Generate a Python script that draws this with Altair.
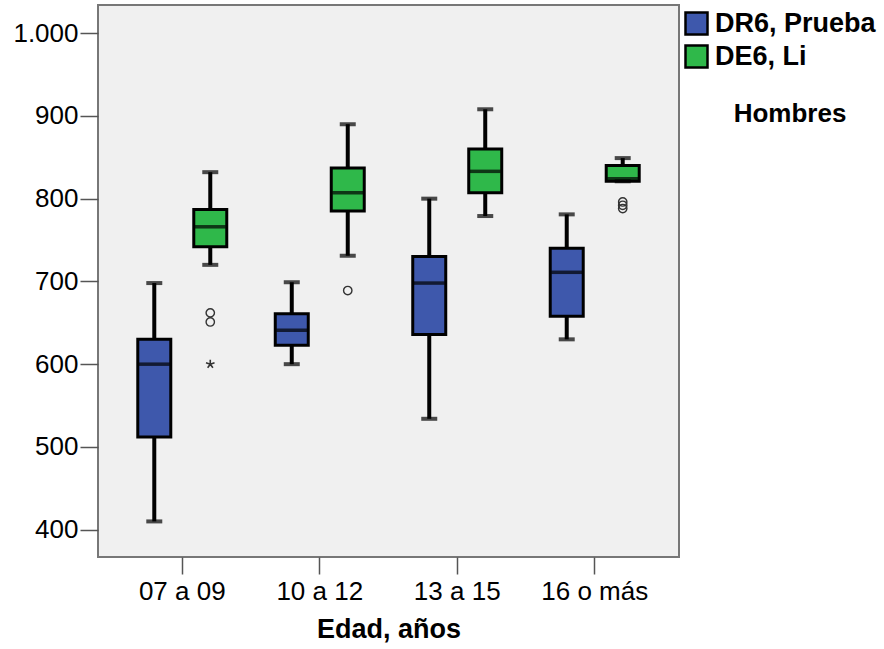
import altair as alt
import pandas as pd

# Age groups and the two measures compared within each group
groups = ["07 a 09", "10 a 12", "13 a 15", "16 o más"]
series = ["DR6, Prueba", "DE6, Li"]
colors = ["#3E58AC", "#2FB84A"]

# Box summaries for "DR6, Prueba"
dr6_lower = [410, 600, 534, 630]
dr6_q1 = [512, 623, 636, 658]
dr6_median = [600, 641, 698, 711]
dr6_q3 = [630, 661, 730, 740]
dr6_upper = [698, 699, 800, 781]

# Box summaries for "DE6, Li"
de6_lower = [720, 731, 779, 821]
de6_q1 = [742, 785, 807, 821]
de6_median = [766, 807, 833, 824]
de6_q3 = [787, 837, 860, 840]
de6_upper = [832, 890, 908, 849]

# Outlying cases (circle = outlier, star = extreme)
out_group = ["07 a 09", "07 a 09", "07 a 09", "10 a 12", "16 o más", "16 o más", "16 o más"]
out_series = ["DE6, Li"] * 7
out_value = [662, 651, 600, 689, 796, 792, 788]
out_kind = ["circle", "circle", "star", "circle", "circle", "circle", "circle"]

rows = []
for name, lo, a, m, b, hi in [
    (series[0], dr6_lower, dr6_q1, dr6_median, dr6_q3, dr6_upper),
    (series[1], de6_lower, de6_q1, de6_median, de6_q3, de6_upper),
]:
    for i, g in enumerate(groups):
        rows.append({"grupo": g, "serie": name, "lower": lo[i], "q1": a[i],
                     "median": m[i], "q3": b[i], "upper": hi[i]})
boxes = pd.DataFrame(rows)
outliers = pd.DataFrame({"grupo": out_group, "serie": out_series,
                         "valor": out_value, "tipo": out_kind})

FONT = "Liberation Sans"

x_enc = alt.X("grupo:N", sort=groups,
              scale=alt.Scale(domain=groups, paddingInner=0, paddingOuter=0.113),
              axis=alt.Axis(title="Edad, años"))
off_enc = alt.XOffset("serie:N", sort=series,
                      scale=alt.Scale(domain=series, paddingInner=0, paddingOuter=0.2277))
y_scale = alt.Scale(domain=[367, 1034], nice=False, zero=False)
y_axis = alt.Axis(title=None, values=[400, 500, 600, 700, 800, 900, 1000],
                  labelExpr="replace(format(datum.value, ','), ',', '.')")

base = alt.Chart(boxes).encode(x=x_enc, xOffset=off_enc)

whisk_low = base.mark_rule(color="black", strokeWidth=4).encode(
    y=alt.Y("lower:Q", scale=y_scale, axis=y_axis), y2="q1:Q")
whisk_high = base.mark_rule(color="black", strokeWidth=4).encode(
    y=alt.Y("q3:Q", scale=y_scale, axis=y_axis), y2="upper:Q")

box = base.mark_bar(size=33, stroke="black", strokeWidth=3).encode(
    y=alt.Y("q1:Q", scale=y_scale, axis=y_axis), y2="q3:Q",
    color=alt.Color("serie:N", sort=series,
                    scale=alt.Scale(domain=series, range=colors),
                    legend=alt.Legend(title=None, orient="none", legendX=585, legendY=5,
                                      symbolType="square", symbolSize=484,
                                      symbolStrokeColor="black", symbolStrokeWidth=2.5,
                                      symbolOpacity=1,
                                      labelFont=FONT, labelFontSize=27, labelFontWeight="bold",
                                      labelColor="black", labelLimit=300, labelOffset=5,
                                      rowPadding=0)))

median = base.mark_tick(color="black", size=31, thickness=3.5).encode(
    y=alt.Y("median:Q", scale=y_scale, axis=y_axis))
cap_low = base.mark_tick(color="black", size=16, thickness=4).encode(
    y=alt.Y("lower:Q", scale=y_scale, axis=y_axis))
cap_high = base.mark_tick(color="black", size=16, thickness=4).encode(
    y=alt.Y("upper:Q", scale=y_scale, axis=y_axis))

out_base = alt.Chart(outliers).encode(
    x=alt.X("grupo:N", sort=groups), xOffset=alt.XOffset("serie:N", sort=series),
    y=alt.Y("valor:Q", scale=y_scale, axis=y_axis))

circles = out_base.transform_filter(alt.datum.tipo == "circle").mark_point(
    shape="circle", filled=False, size=70, stroke="#333333", strokeWidth=1.4, opacity=1)

asterisk = "M0,0L0,-1M0,0L0.951,-0.309M0,0L0.588,0.809M0,0L-0.588,0.809M0,0L-0.951,-0.309"
stars = out_base.transform_filter(alt.datum.tipo == "star").mark_point(
    shape=asterisk, filled=False, size=80, stroke="#333333", strokeWidth=1.6, opacity=1)

sex_label = alt.Chart(pd.DataFrame({"t": ["Hombres"]})).mark_text(
    font=FONT, fontSize=26, fontWeight="bold", color="black", align="center",
    baseline="middle").encode(text="t:N", x=alt.value(692), y=alt.value(109))

chart = alt.layer(whisk_low, whisk_high, box, median, cap_low, cap_high,
                  circles, stars, sex_label).properties(
    width=581, height=552,
    autosize=alt.AutoSizeParams(type="none"),
    padding={"left": 98, "top": 5, "right": 205, "bottom": 92},
    background="white",
).configure_view(
    fill="#F0F0F0", stroke="#777777", strokeWidth=2
).configure_axis(
    labelFont=FONT, labelFontSize=26, labelColor="black",
    titleFont=FONT, titleFontSize=27, titleFontWeight="bold", titleColor="black",
    domain=False, grid=False, tickColor="#555555", tickWidth=1.5, tickSize=18,
    labelPadding=2,
).configure_axisX(
    labelAngle=0, labelPadding=4, titlePadding=12, tickSize=17
)

chart.save("out.html", embed_options={"renderer": "svg", "actions": False})
